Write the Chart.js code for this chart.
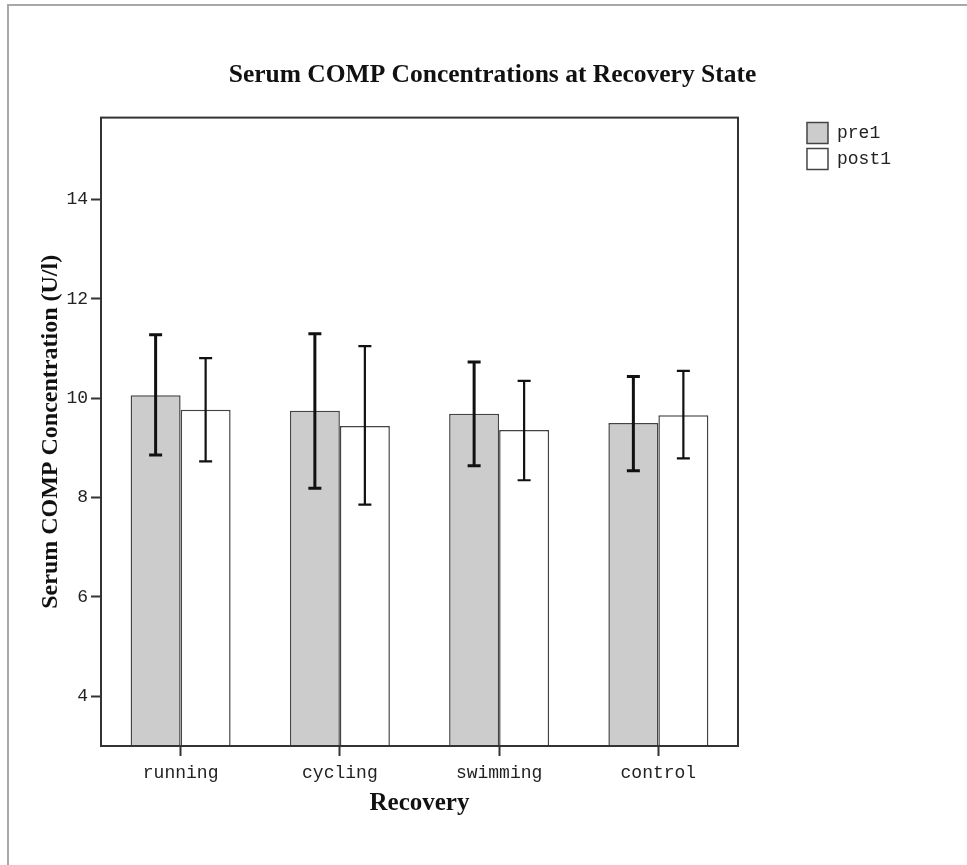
<!DOCTYPE html>
<html>
<head>
<meta charset="utf-8">
<script src="https://cdn.jsdelivr.net/npm/chart.js@4.4.0/dist/chart.umd.min.js"></script>
<style>
  body { margin: 0; background: #fff; }
  #wrap { position: relative; width: 967px; height: 865px; overflow: hidden; }
  #frame { position: absolute; left: 7px; top: 4px; width: 980px; height: 880px;
           border-top: 2px solid #a8a8a8; border-left: 2px solid #a8a8a8; }
  canvas { position: absolute; left: 0; top: 0; }
</style>
</head>
<body>
<div id="wrap">
  <div id="frame"></div>
  <canvas id="myChart" width="967" height="865"></canvas>
</div>
<script>
// values
const categories = ["running", "cycling", "swimming", "control"];
const preMean = [10.06, 9.75, 9.69, 9.5];
const preLow = [8.86, 8.19, 8.64, 8.54];
const preHigh = [11.28, 11.3, 10.73, 10.44];
const postMean = [9.77, 9.44, 9.36, 9.66];
const postLow = [8.73, 7.86, 8.35, 8.79];
const postHigh = [10.81, 11.05, 10.35, 10.55];
const yTicks = [4, 6, 8, 10, 12, 14];

const errLow = [preLow, postLow];
const errHigh = [preHigh, postHigh];
const errWidth = [3, 2.2];

const mono = "'Liberation Mono', 'DejaVu Sans Mono', monospace";
const serif = "'Liberation Serif', 'DejaVu Serif', serif";

// title sits a bit right of the canvas centre in the original
const titleShift = {
  id: "titleShift",
  afterLayout(chart) {
    const t = chart.titleBlock;
    if (t) {
      t.left += 42;
      t.right += 42;
    }
  },
};

// box around plot + error bars
const errorBars = {
  id: "errorBars",
  afterDatasetsDraw(chart) {
    const ctx = chart.ctx;
    const y = chart.scales.y;
    ctx.save();
    chart.data.datasets.forEach((ds, d) => {
      chart.getDatasetMeta(d).data.forEach((bar, i) => {
        const top = y.getPixelForValue(errHigh[d][i]);
        const bot = y.getPixelForValue(errLow[d][i]);
        ctx.strokeStyle = "#111";
        ctx.lineWidth = errWidth[d];
        ctx.beginPath();
        ctx.moveTo(bar.x, top);
        ctx.lineTo(bar.x, bot);
        ctx.moveTo(bar.x - 6.5, top);
        ctx.lineTo(bar.x + 6.5, top);
        ctx.moveTo(bar.x - 6.5, bot);
        ctx.lineTo(bar.x + 6.5, bot);
        ctx.stroke();
      });
    });
    const a = chart.chartArea;
    ctx.strokeStyle = "#333";
    ctx.lineWidth = 2;
    ctx.strokeRect(a.left, a.top, a.right - a.left, a.bottom - a.top);
    ctx.restore();
  },
};

chart = new Chart("myChart", {
  type: "bar",
  data: {
    labels: categories,
    datasets: [
      {
        label: "pre1",
        data: preMean,
        backgroundColor: "#cccccc",
        borderColor: "#444",
        borderWidth: 1.5,
      },
      {
        label: "post1",
        data: postMean,
        backgroundColor: "#ffffff",
        borderColor: "#444",
        borderWidth: 1.5,
      },
    ],
  },
  options: {
    responsive: false,
    animation: false,
    layout: { padding: { left: 0, right: 66, top: 0, bottom: 0 } },
    datasets: { bar: { categoryPercentage: 0.628, barPercentage: 1 } },
    plugins: {
      tooltip: { enabled: false },
      title: {
        display: true,
        text: "Serum COMP Concentrations at Recovery State",
        color: "#111",
        font: { family: serif, size: 25.5, weight: "bold" },
        padding: { top: 60, bottom: 27 },
      },
      legend: {
        position: "right",
        align: "start",
        fullSize: false,
        labels: {
          boxWidth: 21,
          boxHeight: 21,
          padding: 5,
          color: "#222",
          font: { family: mono, size: 18 },
        },
      },
    },
    scales: {
      x: {
        grid: {
          offset: false,
          drawOnChartArea: false,
          tickLength: 10,
          tickColor: "#333",
          tickWidth: 2,
        },
        border: { display: false },
        ticks: {
          color: "#222",
          padding: 6,
          font: { family: mono, size: 18 },
        },
        title: {
          display: true,
          text: "Recovery",
          color: "#111",
          font: { family: serif, size: 25, weight: "bold" },
          padding: { top: 0, bottom: 46 },
        },
        afterFit: (s) => {
          s.height = 119;
        },
      },
      y: {
        min: 3,
        max: 15.65,
        afterBuildTicks: (s) => {
          s.ticks = yTicks.map((v) => ({ value: v }));
        },
        grid: {
          drawOnChartArea: false,
          tickLength: 10,
          tickColor: "#333",
          tickWidth: 2,
        },
        border: { display: false },
        ticks: {
          color: "#222",
          padding: 3,
          font: { family: mono, size: 18 },
        },
        title: {
          display: true,
          text: "Serum COMP Concentration (U/l)",
          color: "#111",
          font: { family: serif, size: 24, weight: "bold" },
          padding: { top: 36, bottom: 0 },
        },
        afterFit: (s) => {
          s.width = 101;
        },
      },
      spacer: {
        type: "linear",
        position: "right",
        display: true,
        grid: { display: false },
        border: { display: false },
        ticks: { display: false },
        afterFit: (s) => {
          s.width = 64;
        },
      },
    },
  },
  plugins: [titleShift, errorBars],
});
</script>
</body>
</html>
